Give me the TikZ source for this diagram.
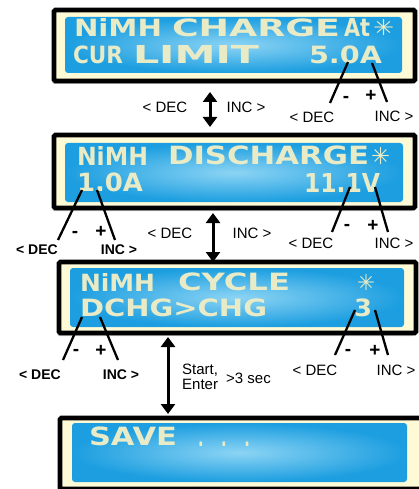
\documentclass[tikz,border=0pt]{standalone}
\usepackage{fontspec}
\setmainfont{Liberation Sans}
\newfontfamily\lcdfont{DejaVu Sans}
\usetikzlibrary{arrows.meta,shadows}
\definecolor{lcdblue}{RGB}{28,158,224}
\definecolor{lcdlight}{RGB}{140,212,244}
\definecolor{cream}{RGB}{255,250,214}
\definecolor{lcdtext}{RGB}{232,235,198}
\newcommand\lcdtxt[3]{\resizebox*{#1pt}{#2pt}{\lcdfont\bfseries #3}}
\newcommand\lcdstar[2]{\resizebox*{#1pt}{#2pt}{\lcdfont\bfseries ✳}}
\begin{document}
\begin{tikzpicture}[x=1pt,y=-1pt,
 frame/.style={draw=black, line width=4.8pt, fill=cream, rounded corners=1.5pt,
   drop shadow={shadow xshift=-2pt, shadow yshift=-3pt, opacity=0.35}, inner sep=0pt, outer sep=0pt},
 screen/.style={inner color=lcdlight, outer color=lcdblue, rounded corners=3pt, inner sep=0pt, outer sep=0pt},
 lcd/.style={anchor=south west, inner sep=0pt, outer sep=0pt, text=lcdtext},
 lbl/.style={font=\fontsize{15}{15}\selectfont, inner sep=0pt},
 blbl/.style={font=\fontsize{14}{14}\selectfont\bfseries, inner sep=0pt},
 pm/.style={font=\fontsize{19}{19}\selectfont\bfseries, inner sep=0pt},
 lead/.style={line width=2.3pt},
 dbl/.style={line width=3pt, {Triangle[width=14pt,length=10pt]}-{Triangle[width=14pt,length=10pt]}}
]
\useasboundingbox (0,0) rectangle (419,489);
\fill[white] (0,0) rectangle (419,489);

% ---------- frames and screens ----------
\node[frame, minimum width=361pt, minimum height=71pt] (f1) at (234.5,45.5) {};
\node[screen, minimum width=337pt, minimum height=56pt] (s1) at (233.5,45) {};
\node[frame, minimum width=361pt, minimum height=73pt] (f2) at (234.5,171.5) {};
\node[screen, minimum width=338pt, minimum height=59pt] (s2) at (234,172.5) {};
\node[frame, minimum width=357pt, minimum height=71pt] (f3) at (237.5,297.5) {};
\node[screen, minimum width=334pt, minimum height=59pt] (s3) at (237,297.5) {};
\node[frame, minimum width=362pt, minimum height=71pt] (f4) at (241,453.5) {};
\node[screen, minimum width=335pt, minimum height=59pt] (s4) at (239.5,452.5) {};

% ---------- LCD texts ----------
\node[lcd] (t1a) at (74,37) {\lcdtxt{88}{18}{NiMH}};
\node[lcd] (t1b) at (172,37) {\lcdtxt{168}{18}{CHARGE}};
\node[lcd] (t1c) at (344,37) {\lcdtxt{26}{18}{At}};
\node[lcd] (t1d) at (373,36) {\lcdstar{21}{16}};
\node[lcd] (t1e) at (73,64) {\lcdtxt{50}{18}{CUR}};
\node[lcd] (t1f) at (133,64) {\lcdtxt{126}{18}{LIMIT}};
\node[lcd] (t1g) at (309,64) {\lcdtxt{73}{18}{5.0A}};

\node[lcd] (t2a) at (77,165) {\lcdtxt{71}{19}{NiMH}};
\node[lcd] (t2b) at (168,165) {\lcdtxt{201}{19}{DISCHARGE}};
\node[lcd] (t2c) at (371,164) {\lcdstar{19}{17}};
\node[lcd] (t2d) at (77,192) {\lcdtxt{66}{19}{1.0A}};
\node[lcd] (t2e) at (304,192) {\lcdtxt{76}{19}{11.1V}};

\node[lcd] (t3a) at (80,291) {\lcdtxt{75}{18}{NiMH}};
\node[lcd] (t3b) at (178,291) {\lcdtxt{112}{18}{CYCLE}};
\node[lcd] (t3c) at (357,290) {\lcdstar{18}{16}};
\node[lcd] (t3d) at (80,317) {\lcdtxt{187}{18}{DCHG>CHG}};
\node[lcd] (t3e) at (354,317) {\lcdtxt{18}{18}{3}};

\node[lcd] (t4a) at (89,446) {\lcdtxt{88}{19}{SAVE}};
\node[lcd] (t4b) at (198,446) {\lcdtxt{52}{4.5}{.\hspace{1.2em}.\hspace{1.2em}.}};

% ---------- box 1 annotations ----------
\node[lbl] (d1) at (165,107) {< DEC};
\node[lbl] (i1) at (246,107) {INC >};
\coordinate (a1t) at (210,92);
\coordinate (a1b) at (210,127);
\draw[dbl] (a1t) -- (a1b);

\coordinate (r1a) at (348,62); \coordinate (r1b) at (330,103);
\coordinate (r1c) at (372,63); \coordinate (r1d) at (387,102);
\draw[lead] (r1a) -- (r1b);
\draw[lead] (r1c) -- (r1d);
\node[pm] (m1) at (346,99) {-};
\node[pm] (p1) at (371,96) {+};
\node[lbl] (rd1) at (312,117) {< DEC};
\node[lbl] (ri1) at (394,116) {INC >};

% ---------- box 2 annotations ----------
\coordinate (l2a) at (82,190); \coordinate (l2b) at (58,240);
\coordinate (l2c) at (97,190); \coordinate (l2d) at (115,240);
\draw[lead] (l2a) -- (l2b);
\draw[lead] (l2c) -- (l2d);
\node[pm] (m2) at (75,234) {-};
\node[pm] (p2) at (101,232) {+};
\node[blbl] (ld2) at (37,250) {< DEC};
\node[blbl] (li2) at (119,250) {INC >};

\node[lbl] (d2) at (170,233) {< DEC};
\node[lbl] (i2) at (252,233) {INC >};
\coordinate (a2t) at (213,213);
\coordinate (a2b) at (213,262);
\draw[dbl] (a2t) -- (a2b);

\coordinate (r2a) at (350,187); \coordinate (r2b) at (332,232);
\coordinate (r2c) at (375,187); \coordinate (r2d) at (388,232);
\draw[lead] (r2a) -- (r2b);
\draw[lead] (r2c) -- (r2d);
\node[pm] (m2r) at (347,227) {-};
\node[pm] (p2r) at (373,226) {+};
\node[lbl] (rd2) at (311,243) {< DEC};
\node[lbl] (ri2) at (394,243) {INC >};

% ---------- box 3 annotations ----------
\coordinate (l3a) at (82,317); \coordinate (l3b) at (63,360);
\coordinate (l3c) at (100,317); \coordinate (l3d) at (118,360);
\draw[lead] (l3a) -- (l3b);
\draw[lead] (l3c) -- (l3d);
\node[pm] (m3) at (76,352) {-};
\node[pm] (p3) at (101,351) {+};
\node[blbl] (ld3) at (40,375) {< DEC};
\node[blbl] (li3) at (121,375) {INC >};

\coordinate (r3a) at (355,310); \coordinate (r3b) at (335,355);
\coordinate (r3c) at (375,310); \coordinate (r3d) at (388,355);
\draw[lead] (r3a) -- (r3b);
\draw[lead] (r3c) -- (r3d);
\node[pm] (m3r) at (348,352) {-};
\node[pm] (p3r) at (375,351) {+};
\node[lbl] (rd3) at (315,370) {< DEC};
\node[lbl] (ri3) at (396,370) {INC >};

% ---------- box 3 -> box 4 ----------
\coordinate (a3t) at (168,337);
\coordinate (a3b) at (168,414);
\draw[dbl] (a3t) -- (a3b);
\node[lbl, anchor=west] (st) at (182,370) {Start,};
\node[lbl, anchor=west] (en) at (182,384) {Enter};
\node[lbl, anchor=west] (sec) at (226,378) {>3 sec};
\end{tikzpicture}
\end{document}
